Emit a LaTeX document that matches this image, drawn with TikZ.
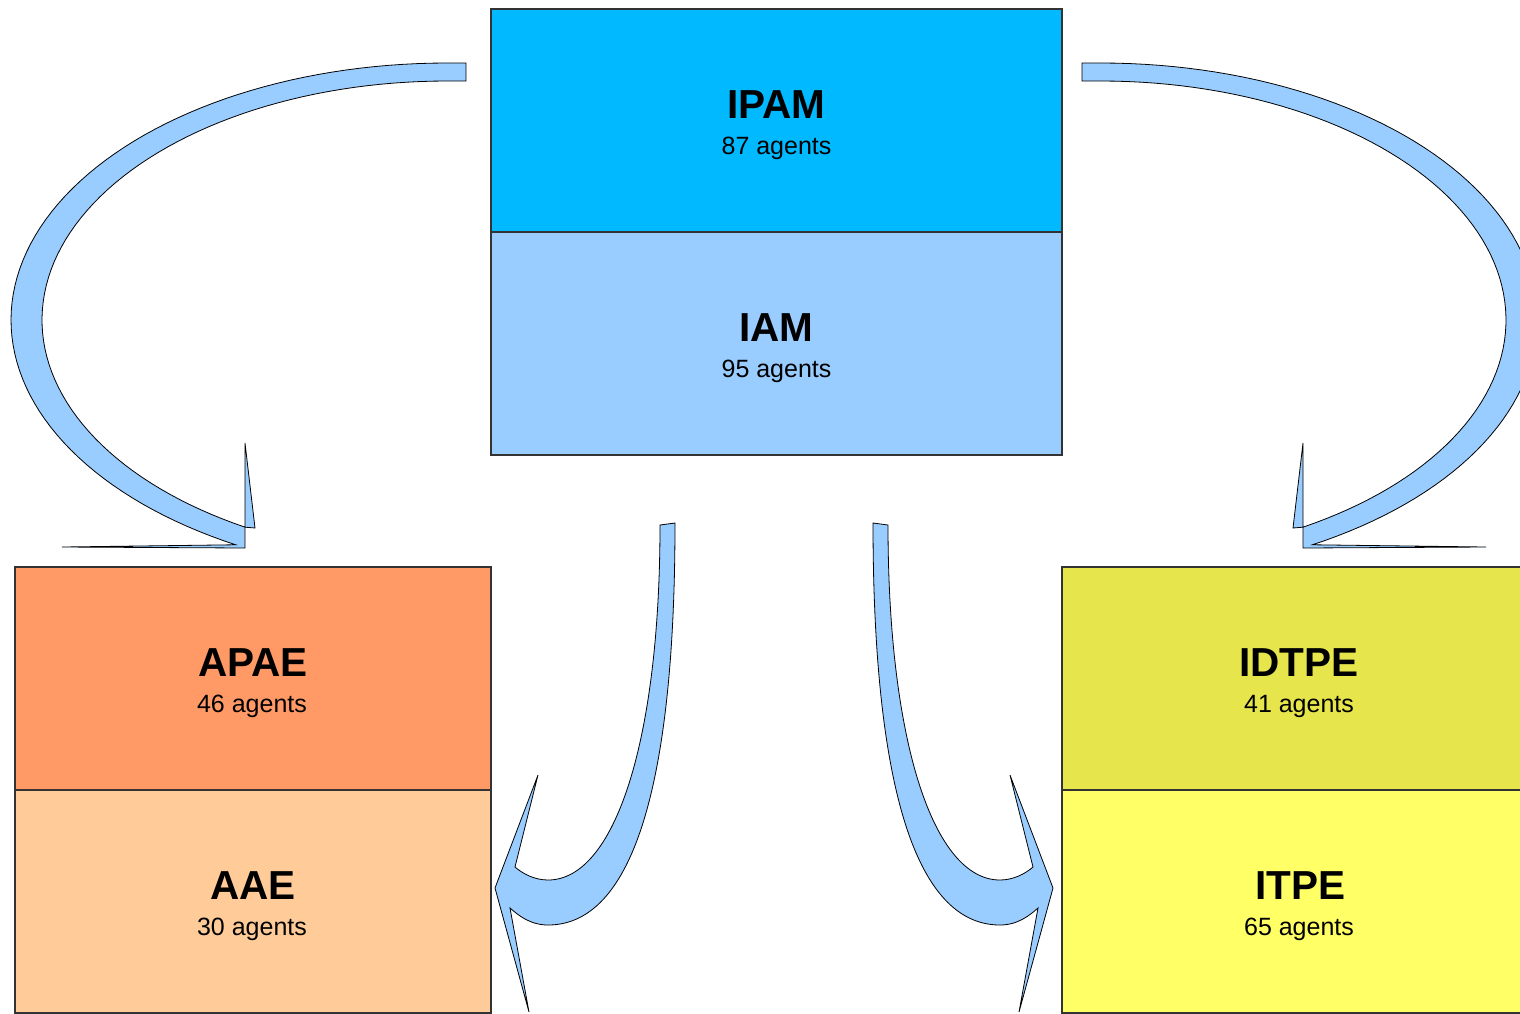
\documentclass[tikz,border=0pt]{standalone}
\usepackage{fontspec}
\setmainfont{Liberation Sans}
\definecolor{ipamc}{HTML}{00B9FF}
\definecolor{iamc}{HTML}{99CCFF}
\definecolor{apaec}{HTML}{FF9966}
\definecolor{aaec}{HTML}{FFCC99}
\definecolor{idtpec}{HTML}{E6E64C}
\definecolor{itpec}{HTML}{FFFF66}
\definecolor{arrc}{HTML}{99CCFF}
\definecolor{edgec}{HTML}{333333}
\begin{document}
\begin{tikzpicture}[x=1pt,y=-1pt,
  box/.style={draw=edgec, line width=1.5pt, minimum height=223pt, inner sep=0pt},
  wide/.style={box, minimum width=571pt},
  narrow/.style={box, minimum width=476pt},
  title/.style={anchor=base, font=\fontsize{40.5}{40}\selectfont\bfseries, inner sep=0pt},
  sub/.style={anchor=base, font=\fontsize{25}{25}\selectfont, inner sep=0pt},
  arrow shape/.style={fill=arrc, draw=black, line width=0.8pt, line join=miter}]
\useasboundingbox (0,0) rectangle (1520,1013);
% boxes
\node[wide, fill=ipamc] (ipam) at (776.5,120.5) {};
\node[wide, fill=iamc] (iam) at (776.5,343.5) {};
\node[narrow, fill=apaec] (apae) at (253,678.5) {};
\node[narrow, fill=aaec] (aae) at (253,901.5) {};
\node[narrow, fill=idtpec] (idtpe) at (1300,678.5) {};
\node[narrow, fill=itpec] (itpe) at (1300,901.5) {};
% texts
\node[title] (ipamT) at (776.5,118.5) {IPAM};
\node[sub] (ipamS) at (776.5,154) {87 agents};
\node[title] (iamT) at (776.5,341.5) {IAM};
\node[sub] (iamS) at (776.5,377) {95 agents};
\node[title] (apaeT) at (253,676.5) {APAE};
\node[sub] (apaeS) at (252,712) {46 agents};
\node[title] (aaeT) at (253,899.5) {AAE};
\node[sub] (aaeS) at (252,935) {30 agents};
\node[title] (idtpeT) at (1299,676.5) {IDTPE};
\node[sub] (idtpeS) at (1299,712) {41 agents};
\node[title] (itpeT) at (1300,899.5) {ITPE};
\node[sub] (itpeS) at (1299,935) {65 agents};
% big left arrow
\draw[arrow shape] (466,63) -- (447,63)
  -- plot[domain=270:119, samples=80] ({447+436*cos(\x)},{320+257*sin(\x)})
  -- (62,547) -- (245,548) -- (245,443) -- (255,528)
  -- plot[domain=119.9:270, samples=80] ({447+405*cos(\x)},{320+239*sin(\x)})
  -- (466,81) -- cycle;
% big right arrow (mirror)
\draw[arrow shape] (1082,63) -- (1101,63)
  -- plot[domain=270:119, samples=80] ({1101-436*cos(\x)},{320+257*sin(\x)})
  -- (1486,547) -- (1303,548) -- (1303,443) -- (1293,528)
  -- plot[domain=119.9:270, samples=80] ({1101-405*cos(\x)},{320+239*sin(\x)})
  -- (1082,81) -- cycle;
% small left arrow
\draw[arrow shape] (660,525) -- (675,523)
  .. controls (675,760) and (640,925) .. (548,925)
  .. controls (530,925) and (518,915) .. (510,908)
  -- (529,1012) -- (495,888) -- (538,775) -- (515,867)
  .. controls (523,874) and (535,880) .. (548,880)
  .. controls (615,880) and (660,740) .. (660,525) -- cycle;
% small right arrow
\draw[arrow shape] (888,525) -- (873,523)
  .. controls (873,760) and (908,925) .. (1000,925)
  .. controls (1018,925) and (1030,915) .. (1038,908)
  -- (1019,1012) -- (1053,888) -- (1010,775) -- (1033,867)
  .. controls (1025,874) and (1013,880) .. (1000,880)
  .. controls (933,880) and (888,740) .. (888,525) -- cycle;
\end{tikzpicture}
\end{document}
